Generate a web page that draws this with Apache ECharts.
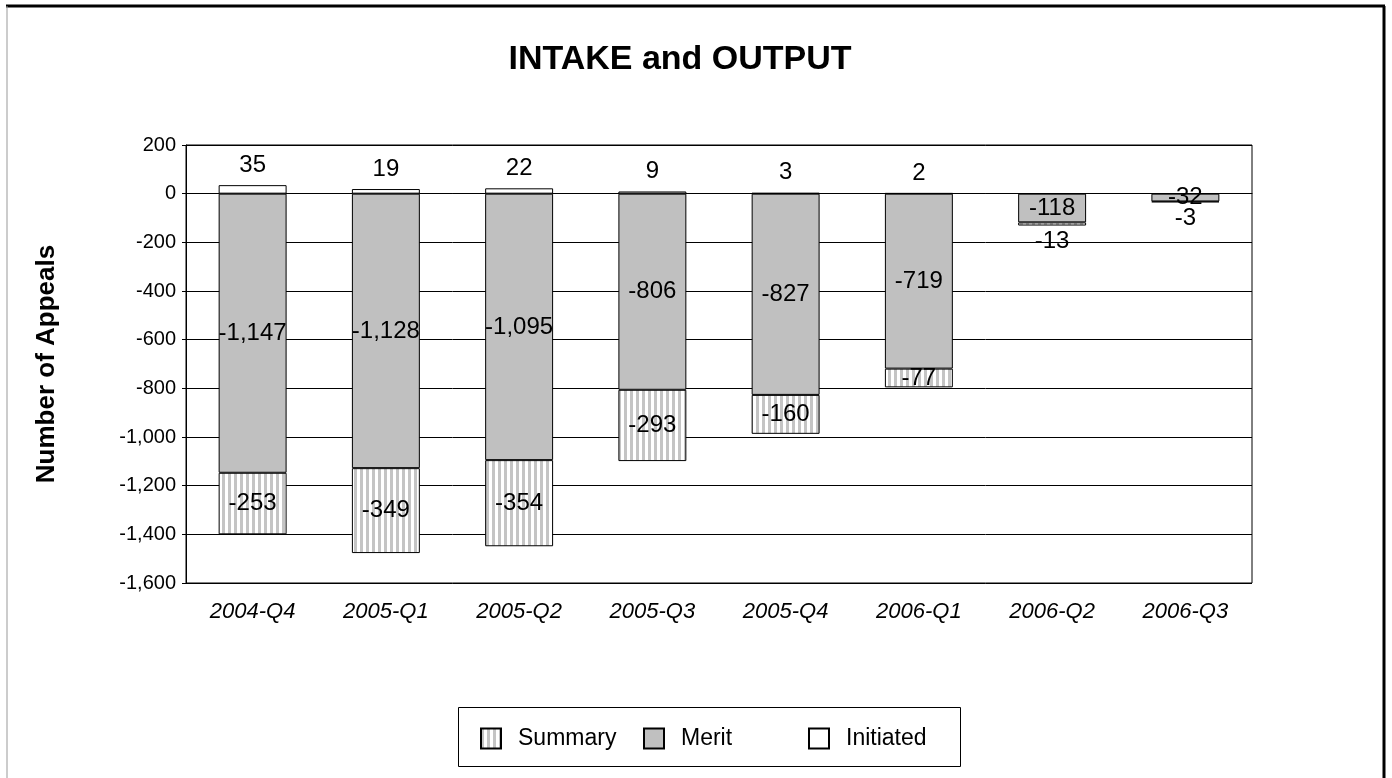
<!DOCTYPE html>
<html>
<head>
<meta charset="utf-8">
<script src="https://cdn.jsdelivr.net/npm/echarts@6/dist/echarts.min.js"></script>
<style>
  html, body { margin: 0; padding: 0; background: #fff; }
  #chart { width: 1392px; height: 778px; }
</style>
</head>
<body>
<div id="chart"></div>
<script>
const quarters = ['2004-Q4', '2005-Q1', '2005-Q2', '2005-Q3', '2005-Q4', '2006-Q1', '2006-Q2', '2006-Q3']
const merit = [-1147, -1128, -1095, -806, -827, -719, -118, -32]
const summary = [-253, -349, -354, -293, -160, -77, -13, -3]
const initiated = [35, 19, 22, 9, 3, 2, null, null]
const yTicks = { min: -1600, max: 200, step: 200 }

const font = '"Liberation Sans", Arial, sans-serif'

// vertical stripes like the old office fill
function stripes() {
  const c = document.createElement('canvas')
  c.width = 6
  c.height = 6
  const ctx = c.getContext('2d')
  ctx.fillStyle = '#fff'
  ctx.fillRect(0, 0, 6, 6)
  ctx.fillStyle = '#c4c4c4'
  ctx.fillRect(0, 0, 3, 6)
  return { image: c, repeat: 'repeat' }
}

const fmt = (v) => Number(v).toLocaleString('en-US')
const labelBase = { show: true, color: '#000', fontFamily: font, fontSize: 24, formatter: (p) => fmt(p.value) }

// spacing in the original legend is uneven, so one legend per entry
function legendEntry(name, left) {
  return {
    data: [name],
    left,
    top: 727,
    padding: 0,
    icon: 'rect',
    itemWidth: 20,
    itemHeight: 20,
    textStyle: { fontFamily: font, fontSize: 23, color: '#000', padding: [0, 0, 0, 12] },
  }
}

const chart = echarts.init(document.getElementById('chart'))
chart.setOption({
  animation: false,
  backgroundColor: '#fff',
  title: {
    text: 'INTAKE and OUTPUT',
    left: 675,
    top: 38,
    textAlign: 'center',
    textStyle: { fontFamily: font, fontWeight: 'bold', fontSize: 34, color: '#000' },
  },
  graphic: [
    { type: 'line', shape: { x1: 6, y1: 6, x2: 1385, y2: 6 }, style: { stroke: '#000', lineWidth: 3 } },
    { type: 'line', shape: { x1: 7, y1: 6, x2: 7, y2: 778 }, style: { stroke: '#999', lineWidth: 1 } },
    { type: 'line', shape: { x1: 1384, y1: 6, x2: 1384, y2: 778 }, style: { stroke: '#000', lineWidth: 3 } },
    { type: 'rect', shape: { x: 458.5, y: 707.5, width: 502, height: 59 }, style: { fill: 'none', stroke: '#000', lineWidth: 1 } },
  ],
  legend: [legendEntry('Summary', 480), legendEntry('Merit', 643), legendEntry('Initiated', 808)],
  grid: { left: 186, right: 140, top: 145, bottom: 195, show: true, borderColor: '#000', borderWidth: 1 },
  xAxis: {
    type: 'category',
    data: quarters,
    axisLine: { lineStyle: { color: '#000' } },
    axisTick: { show: false },
    axisLabel: { color: '#000', fontFamily: font, fontSize: 22, fontStyle: 'italic', margin: 18 },
  },
  yAxis: {
    type: 'value',
    min: yTicks.min,
    max: yTicks.max,
    interval: yTicks.step,
    name: 'Number of Appeals',
    nameLocation: 'middle',
    nameGap: 126,
    nameTextStyle: { fontFamily: font, fontWeight: 'bold', fontSize: 26, color: '#000' },
    axisLine: { show: true, lineStyle: { color: '#000' } },
    axisTick: { show: true, length: 4, lineStyle: { color: '#000' } },
    axisLabel: { color: '#000', fontFamily: font, fontSize: 20, margin: 10, formatter: fmt },
    splitLine: { lineStyle: { color: '#000', width: 1 } },
  },
  series: [
    {
      name: 'Merit',
      type: 'bar',
      stack: 'a',
      barWidth: '51%',
      data: merit,
      itemStyle: { color: '#c0c0c0', borderColor: '#000', borderWidth: 1 },
      label: { ...labelBase, position: 'inside' },
    },
    {
      name: 'Summary',
      type: 'bar',
      stack: 'a',
      data: summary.map((v) => ({
        value: v,
        label: Math.abs(v) < 20 ? { position: 'bottom', distance: 4 } : { position: 'inside' },
      })),
      itemStyle: { color: stripes(), borderColor: '#000', borderWidth: 1 },
      label: { ...labelBase },
    },
    {
      name: 'Initiated',
      type: 'bar',
      stack: 'a',
      data: initiated,
      itemStyle: { color: '#fff', borderColor: '#000', borderWidth: 1 },
      label: { ...labelBase, position: 'top', distance: 8 },
    },
  ],
})
</script>
</body>
</html>
